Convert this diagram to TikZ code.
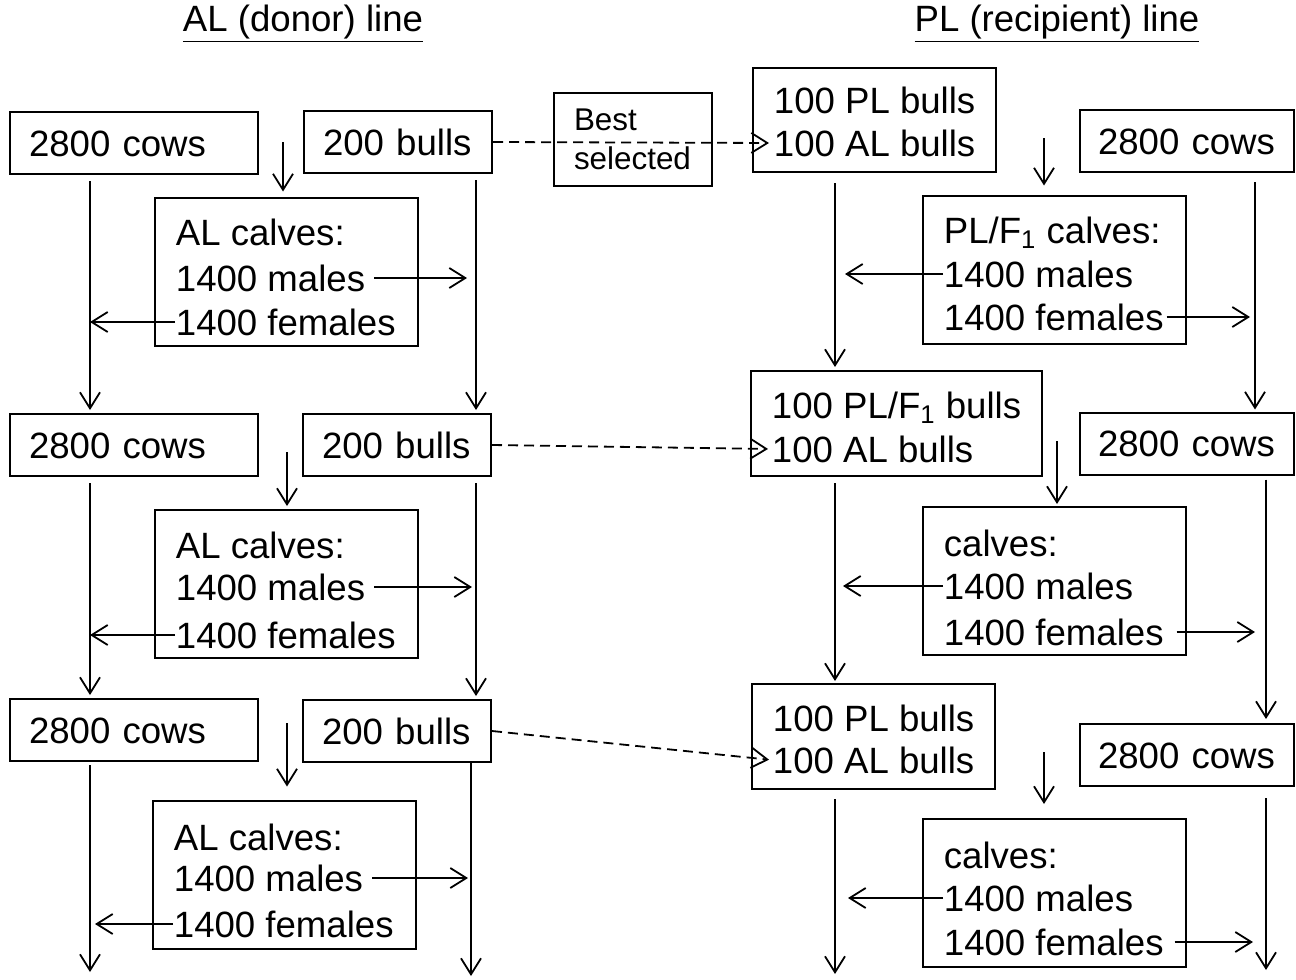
\documentclass[tikz,border=0pt]{standalone}
\usepackage{fontspec}
\setmainfont{Liberation Sans}
\usetikzlibrary{arrows.meta}

\begin{document}
\begin{tikzpicture}[x=0.5pt,y=-0.5pt,>={Straight Barb[length=8pt,width=10pt]},
                    line width=0.9pt,font=\fontsize{18.3pt}{22pt}\selectfont]
   \tikzstyle{box}=[draw,line width=1pt,inner xsep=9.5pt,inner ysep=0pt,minimum height=31pt,
                    text height=13pt,text depth=0pt,align=left,anchor=west]
   \tikzstyle{calfbox}=[draw,line width=1pt,inner sep=0pt,minimum width=131.5pt,minimum height=74pt]
   \tikzstyle{txt}=[inner sep=0pt,text height=13pt,text depth=0pt,anchor=west]
   \tikzstyle{pass}=[->,dash pattern=on 5pt off 3pt]

   \useasboundingbox (0,0) rectangle (1296,980);

   \node (tA) at (303,24) {\underline{AL (donor) line}};
   \node (tB) at (1057,24) {\underline{PL (recipient) line}};

   % AL line
   \node[box,text width=105pt] (cA1) at (9,143)   {2800 cows};
   \node[box,text width=75pt]  (bA1) at (303,142) {200 bulls};
   \node[calfbox] (kA1) at (286.5,271.5) {};
   \node[txt] (hA1) at (175,232) {AL calves:};
   \node[txt] (mA1) at (175,278) {1400 males};
   \node[txt] (fA1) at (175,322) {1400 females};

   \node[box,text width=105pt] (cA2) at (9,445)   {2800 cows};
   \node[box,text width=75pt]  (bA2) at (302,445) {200 bulls};
   \node[calfbox] (kA2) at (286.5,584) {};
   \node[txt] (hA2) at (175,545) {AL calves:};
   \node[txt] (mA2) at (175,587) {1400 males};
   \node[txt] (fA2) at (175,635) {1400 females};

   \node[box,text width=105pt] (cA3) at (9,730)   {2800 cows};
   \node[box,text width=75pt]  (bA3) at (302,731) {200 bulls};
   \node[calfbox] (kA3) at (284.5,874.5) {};
   \node[txt] (hA3) at (173,837) {AL calves:};
   \node[txt] (mA3) at (173,878) {1400 males};
   \node[txt] (fA3) at (173,924) {1400 females};

   % PL line
   \node[calfbox,minimum width=121.5pt,minimum height=52pt] (pA1) at (874.5,120) {};
   \node[txt] (uA1) at (773,100) {100 PL bulls};
   \node[txt] (vA1) at (773,143) {100 AL bulls};
   \node[calfbox,minimum width=145.5pt,minimum height=52.5pt] (pA2) at (896.5,423.5) {};
   \node[txt] (uA2) at (771,405) {100 PL/F\textsubscript{1} bulls};
   \node[txt] (vA2) at (771,449) {100 AL bulls};
   \node[calfbox,minimum width=121.5pt,minimum height=52.5pt] (pA3) at (873.5,736.5) {};
   \node[txt] (uA3) at (772,718) {100 PL bulls};
   \node[txt] (vA3) at (772,760) {100 AL bulls};

   \node[box,text width=89pt,inner xsep=9pt] (cB1) at (1079,141)   {2800 cows};
   \node[box,text width=89pt,inner xsep=9pt] (cB2) at (1079,443.5) {2800 cows};
   \node[box,text width=89pt,inner xsep=9pt] (cB3) at (1079,755)   {2800 cows};

   \node[calfbox] (kB1) at (1054.5,269.5) {};
   \node[txt] (hB1) at (943,230) {PL/F\textsubscript{1} calves:};
   \node[txt] (mB1) at (943,274) {1400 males};
   \node[txt] (fB1) at (943,317) {1400 females};
   \node[calfbox] (kB2) at (1054.5,581) {};
   \node[txt] (hB2) at (943,543) {calves:};
   \node[txt] (mB2) at (943,586) {1400 males};
   \node[txt] (fB2) at (943,632) {1400 females};
   \node[calfbox] (kB3) at (1054.5,893) {};
   \node[txt] (hB3) at (943,855) {calves:};
   \node[txt] (mB3) at (943,898) {1400 males};
   \node[txt] (fB3) at (943,942) {1400 females};

   \node[draw,line width=1pt,align=left,text width=59pt,inner xsep=10pt,minimum height=46.5pt,
         font=\fontsize{15.7pt}{19.5pt}\selectfont] (best) at (633,139.5) {Best\\selected};

   % line positions and free ends
   \coordinate (xA) at (90,0);
   \coordinate (xB) at (476,0);
   \coordinate (xB3) at (471,0);
   \coordinate (xC) at (835,0);
   \coordinate (xD1) at (1255,0);
   \coordinate (xD2) at (1266,0);
   \coordinate (eA) at (90,972);
   \coordinate (eB) at (471,976);
   \coordinate (eC) at (835,974);
   \coordinate (eD) at (1266,970);
   \coordinate (dA1) at (283,142);
   \coordinate (dA2) at (287,452);
   \coordinate (dA3) at (287,723);
   \coordinate (dB1) at (1044,138);
   \coordinate (dB2) at (1057,441);
   \coordinate (dB3) at (1044,752);

   % down the generations
   \draw[->,shorten <=3pt,shorten >=1.5pt] (cA1.south -| xA) -- (cA2.north -| xA);
   \draw[->,shorten <=3pt,shorten >=1.5pt] (cA2.south -| xA) -- (cA3.north -| xA);
   \draw[->,shorten <=1.5pt] (cA3.south -| xA) -- (eA);
   \draw[->,shorten <=3pt,shorten >=1.5pt] (bA1.south -| xB) -- (bA2.north -| xB);
   \draw[->,shorten <=3pt,shorten >=1.5pt] (bA2.south -| xB) -- (bA3.north -| xB);
   \draw[->] (bA3.south -| xB3) -- (eB);
   \draw[->,shorten <=5pt,shorten >=1.5pt] (pA1.south -| xC) -- (pA2.north -| xC);
   \draw[->,shorten <=3pt,shorten >=1pt] (pA2.south -| xC) -- (pA3.north -| xC);
   \draw[->,shorten <=4.5pt] (pA3.south -| xC) -- (eC);
   \draw[->,shorten <=4.5pt,shorten >=1pt] (cB1.south -| xD1) -- (cB2.north -| xD1);
   \draw[->,shorten <=2pt,shorten >=2pt] (cB2.south -| xD2) -- (cB3.north -| xD2);
   \draw[->,shorten <=5.5pt] (cB3.south -| xD2) -- (eD);

   % into the calves
   \draw[->,shorten >=2.5pt] (dA1) -- (kA1.north -| dA1);
   \draw[->,shorten >=1.5pt] (dA2) -- (kA2.north -| dA2);
   \draw[->,shorten >=6.5pt] (dA3) -- (kA3.north -| dA3);
   \draw[->,shorten >=4.5pt] (dB1) -- (kB1.north -| dB1);
   \draw[->,shorten >=1pt]   (dB2) -- (kB2.north -| dB2);
   \draw[->,shorten >=7pt]   (dB3) -- (kB3.north -| dB3);

   % males and females
   \draw[->,shorten <=4pt,shorten >=4.5pt] (mA1.east) -- (mA1.east -| xB);
   \draw[->,shorten <=4pt,shorten >=2pt]   (mA2.east) -- (mA2.east -| xB);
   \draw[->,shorten <=4pt,shorten >=1.5pt] (mA3.east) -- (mA3.east -| xB3);
   \draw[->] (fA1.west) -- (fA1.west -| xA);
   \draw[->] (fA2.west) -- (fA2.west -| xA);
   \draw[->,shorten >=2.5pt] (fA3.west) -- (fA3.west -| xA);
   \draw[->,shorten >=5pt] (mB1.west) -- (mB1.west -| xC);
   \draw[->,shorten >=4pt] (mB2.west) -- (mB2.west -| xC);
   \draw[->,shorten >=6.5pt] (mB3.west) -- (mB3.west -| xC);
   \draw[->,shorten <=1pt,shorten >=2.5pt] (fB1.east) -- (fB1.east -| xD1);
   \draw[->,shorten <=6pt,shorten >=5.5pt] (fB2.east) -- (fB2.east -| xD2);
   \draw[->,shorten <=5pt,shorten >=6.5pt] (fB3.east) -- (fB3.east -| xD2);

   % best AL bulls to the PL line
   \draw[pass,shorten >=2pt] (bA1.east) -- (vA1.west);
   \draw[pass,shorten >=1.5pt] (bA2.east) -- (vA2.west);
   \draw[pass,shorten >=1.5pt] (bA3.east) -- (vA3.west);
\end{tikzpicture}
\end{document}
